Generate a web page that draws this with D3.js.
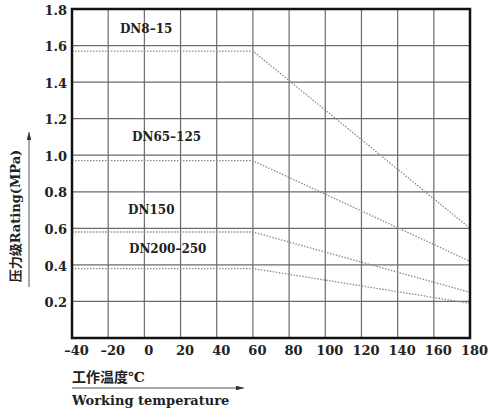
<!DOCTYPE html>
<html>
<head>
<meta charset="utf-8">
<script src="https://cdn.jsdelivr.net/npm/d3@7"></script>
<style>
  body { margin: 0; background: #fff; }
  text { font-family: "DejaVu Serif", "Noto Sans CJK SC", serif; font-weight: bold; fill: #222; }
</style>
</head>
<body>
<svg id="chart" width="492" height="410"></svg>
<script>
// data
const xTicks = [-40, -20, 0, 20, 40, 60, 80, 100, 120, 140, 160, 180];
const yTicks = [0.2, 0.4, 0.6, 0.8, 1.0, 1.2, 1.4, 1.6, 1.8];
const temps = [-40, 60, 180];
const seriesNames = ["DN8–15", "DN65–125", "DN150", "DN200–250"];
const dn8 = [1.57, 1.57, 0.60];
const dn65 = [0.97, 0.97, 0.42];
const dn150 = [0.58, 0.58, 0.25];
const dn200 = [0.38, 0.38, 0.19];

const svg = d3.select("#chart");
const pLeft = 72, pRight = 470, pTop = 9, pBottom = 338;

const x = d3.scaleLinear().domain([-40, 180]).range([pLeft, pRight]);
const y = d3.scaleLinear().domain([0, 1.8]).range([pBottom, pTop]);

/* grid */
svg.append("g")
  .selectAll("line")
  .data(xTicks)
  .enter().append("line")
  .attr("x1", d => x(d)).attr("x2", d => x(d))
  .attr("y1", pTop).attr("y2", pBottom)
  .attr("stroke", "#6b6b6b").attr("stroke-width", 1.2);

svg.append("g")
  .selectAll("line")
  .data(yTicks)
  .enter().append("line")
  .attr("x1", pLeft).attr("x2", pRight)
  .attr("y1", d => y(d)).attr("y2", d => y(d))
  .attr("stroke", "#6b6b6b").attr("stroke-width", 1.2);

/* dotted rating lines */
const series = [dn8, dn65, dn150, dn200];
const line = d3.line().x((d, i) => x(temps[i])).y(d => y(d));
svg.append("g")
  .selectAll("path")
  .data(series)
  .enter().append("path")
  .attr("d", d => line(d))
  .attr("fill", "none")
  .attr("stroke", "#8a8a8a")
  .attr("stroke-width", 1.3)
  .attr("stroke-dasharray", "1.5,1.5");

/* frame */
svg.append("rect")
  .attr("x", pLeft).attr("y", pTop)
  .attr("width", pRight - pLeft).attr("height", pBottom - pTop)
  .attr("fill", "none").attr("stroke", "#111").attr("stroke-width", 2.5);

/* axes labels */
const xAxis = d3.axisBottom(x).tickValues(xTicks).tickSize(0).tickPadding(8)
  .tickFormat(d => d < 0 ? "–" + Math.abs(d) : d);
const gx = svg.append("g").attr("transform", `translate(0,${pBottom})`).call(xAxis);
gx.select(".domain").remove();
gx.selectAll("text").attr("dx", 4).attr("font-size", null).attr("font-family", null)
  .style("font-size", "13px");

const yAxis = d3.axisLeft(y).tickValues(yTicks).tickSize(0).tickPadding(5).tickFormat(d3.format(".1f"));
const gy = svg.append("g").attr("transform", `translate(${pLeft},0)`).call(yAxis);
gy.select(".domain").remove();
gy.selectAll("text").attr("dy", "0.4em").style("font-size", "13px");
gx.attr("font-family", null); gy.attr("font-family", null);

/* series labels */
const labelAt = [[-13.5, 1.69], [-6.8, 1.10], [-9, 0.70], [-8.5, 0.49]];
svg.append("g")
  .selectAll("text")
  .data(seriesNames)
  .enter().append("text")
  .attr("x", (d, i) => x(labelAt[i][0]))
  .attr("y", (d, i) => y(labelAt[i][1]))
  .attr("dy", "0.35em")
  .style("font-size", "12px")
  .text(d => d);

/* arrows */
svg.append("defs").append("marker")
  .attr("id", "ah").attr("viewBox", "0 0 10 6")
  .attr("refX", 10).attr("refY", 3)
  .attr("markerWidth", 8).attr("markerHeight", 4.8)
  .attr("markerUnits", "userSpaceOnUse")
  .attr("orient", "auto")
  .append("path").attr("d", "M0,0L10,3L0,6Z").attr("fill", "#333");

svg.append("line")
  .attr("x1", 29).attr("y1", 287).attr("x2", 29).attr("y2", 132)
  .attr("stroke", "#555").attr("stroke-width", 1).attr("marker-end", "url(#ah)");

svg.append("line")
  .attr("x1", 72).attr("y1", 388).attr("x2", 244).attr("y2", 388)
  .attr("stroke", "#555").attr("stroke-width", 1).attr("marker-end", "url(#ah)");

/* titles */
svg.append("text")
  .attr("transform", "translate(20,216) rotate(-90)")
  .attr("text-anchor", "middle")
  .style("font-size", "13px")
  .text("压力级Rating(MPa)");

svg.append("text")
  .attr("x", 72).attr("y", 382)
  .style("font-size", "14px")
  .text("工作温度℃");

svg.append("text")
  .attr("x", 72).attr("y", 405)
  .style("font-size", "13px")
  .text("Working temperature");
</script>
</body>
</html>
